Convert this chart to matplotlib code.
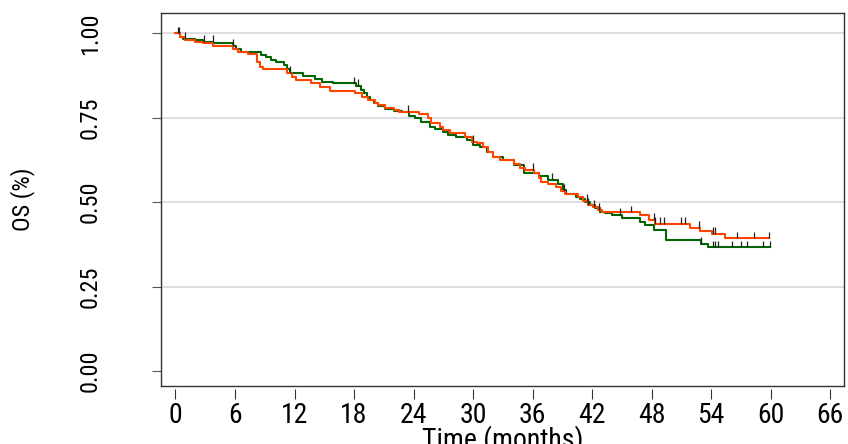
import numpy as np
import matplotlib.pyplot as plt

# Kaplan-Meier steps: time of each drop (months) and survival right after it
green_t = [0.0, 0.45, 0.8, 2.0, 2.8, 3.8, 5.8, 6.1, 6.6, 8.6, 9.1, 9.6, 10.1,
           10.9, 11.2, 11.5, 12.9, 14.1, 14.8, 15.9, 18.2, 18.7, 19.0, 19.3,
           19.6, 20.0, 20.4, 21.1, 22.0, 22.8, 23.5, 24.1, 24.8, 25.7, 26.2,
           27.0, 27.5, 28.3, 29.4, 30.0, 30.7, 31.4, 32.0, 33.0, 34.1, 35.1,
           36.6, 37.6, 38.6, 39.1, 39.4, 40.4, 40.8, 41.3, 41.8, 42.3, 42.8,
           43.3, 44.0, 45.0, 46.8, 47.3, 48.2, 49.5, 53.0, 53.7]
green_s = [1.000, 0.990, 0.983, 0.980, 0.975, 0.970, 0.962, 0.954, 0.946,
           0.936, 0.929, 0.921, 0.914, 0.906, 0.893, 0.883, 0.874, 0.865,
           0.857, 0.852, 0.844, 0.832, 0.822, 0.812, 0.802, 0.793, 0.786,
           0.776, 0.771, 0.766, 0.756, 0.748, 0.738, 0.723, 0.716, 0.707,
           0.699, 0.692, 0.684, 0.669, 0.664, 0.649, 0.635, 0.625, 0.610,
           0.585, 0.577, 0.566, 0.554, 0.536, 0.524, 0.516, 0.508, 0.501,
           0.492, 0.482, 0.472, 0.467, 0.462, 0.452, 0.442, 0.432, 0.418,
           0.387, 0.376, 0.366]
green_censor = [0.3, 0.96, 2.9, 3.75, 5.8, 11.5, 18.0, 18.4, 38.0, 44.8,
                53.0, 54.2, 54.4, 54.7, 56.1, 57.0, 57.6, 59.2, 59.9]

orange_t = [0.0, 0.45, 0.96, 2.0, 2.8, 3.8, 5.8, 6.3, 7.3, 8.25, 8.5, 8.85,
            11.2, 11.7, 12.2, 13.7, 14.6, 15.6, 18.1, 18.8, 19.4, 20.1, 20.4,
            21.1, 22.0, 22.5, 24.6, 25.5, 25.8, 26.7, 27.0, 27.7, 29.2, 29.9,
            30.4, 31.0, 31.5, 32.0, 32.7, 34.1, 34.7, 35.2, 36.1, 36.6, 36.9,
            37.6, 38.4, 38.9, 39.3, 40.6, 41.1, 41.6, 42.1, 42.6, 43.0, 46.8,
            47.7, 48.3, 51.9, 52.9, 54.1, 55.4]
orange_s = [1.000, 0.988, 0.980, 0.975, 0.970, 0.963, 0.954, 0.946, 0.938,
            0.916, 0.901, 0.893, 0.883, 0.872, 0.862, 0.852, 0.840, 0.829,
            0.822, 0.812, 0.802, 0.793, 0.788, 0.778, 0.773, 0.768, 0.761,
            0.748, 0.735, 0.723, 0.714, 0.704, 0.692, 0.679, 0.674, 0.662,
            0.649, 0.635, 0.625, 0.613, 0.600, 0.595, 0.587, 0.571, 0.561,
            0.554, 0.546, 0.534, 0.523, 0.514, 0.504, 0.492, 0.487, 0.477,
            0.470, 0.462, 0.447, 0.435, 0.424, 0.415, 0.405, 0.393]
orange_censor = [0.4, 23.4, 30.0, 36.0, 39.2, 41.5, 41.6, 42.2, 42.7, 45.9,
                 48.2, 48.3, 48.8, 49.3, 51.0, 51.4, 52.8, 54.2, 54.4, 56.6,
                 58.3, 59.8]

x_ticks = list(range(0, 67, 6))
y_ticks = [0.0, 0.25, 0.50, 0.75, 1.00]

plt.rcParams['font.family'] = ['Liberation Sans Narrow', 'Roboto Condensed',
                               'Liberation Sans']

fig = plt.figure(figsize=(8.48, 4.44), dpi=100)
ax = fig.add_axes([161 / 848, 1 - 385.7 / 444, 683 / 848, 373 / 444])


def km_curve(t, s, censor, color):
    t = np.asarray(t)
    s = np.asarray(s)
    c = np.asarray(censor)
    tt = np.append(t, c.max())  # line runs to last follow-up
    ss = np.append(s, s[-1])
    ax.step(tt, ss, where='post', color=color, lw=1.5, zorder=3)
    cs = s[np.searchsorted(t, c, side='right') - 1]
    ax.vlines(c, cs, cs + 0.02, color='#222222', lw=0.9, zorder=4)


km_curve(green_t, green_s, green_censor, '#006400')
km_curve(orange_t, orange_s, orange_censor, '#ff4500')

for y in y_ticks[1:]:
    ax.axhline(y, color='#dedede', lw=1.4, zorder=1)

ax.set_xlim(-1.46, 67.4)
ax.set_ylim(-0.0435, 1.061)

# box frame; x axis sits a little below it
for side in ['left', 'right', 'top']:
    ax.spines[side].set_color('#333333')
    ax.spines[side].set_linewidth(1.0)
ax.spines['bottom'].set_position(('outward', 2.5))
ax.spines['bottom'].set_visible(False)
ax.plot([0, 1], [0, 0], transform=ax.transAxes, color='#333333', lw=1.0,
        clip_on=False, zorder=5)

ax.set_xticks(x_ticks)
ax.set_xticklabels([str(v) for v in x_ticks])
ax.tick_params(axis='x', length=7.5, width=0.8, color='#333333', labelsize=20, pad=2)
ax.set_yticks(y_ticks)
ax.set_yticklabels(['%.2f' % v for v in y_ticks], rotation=90, va='center')
ax.tick_params(axis='y', length=6.7, width=0.8, color='#555555', labelsize=17.5, pad=36)

ax.set_xlabel('Time (months)', fontsize=20)
ax.xaxis.set_label_coords(0.5, -0.105)
ax.set_ylabel('OS (%)', fontsize=17.5)
ax.yaxis.set_label_coords(-0.184, 0.5)

fig.savefig('out.png', dpi=100)
